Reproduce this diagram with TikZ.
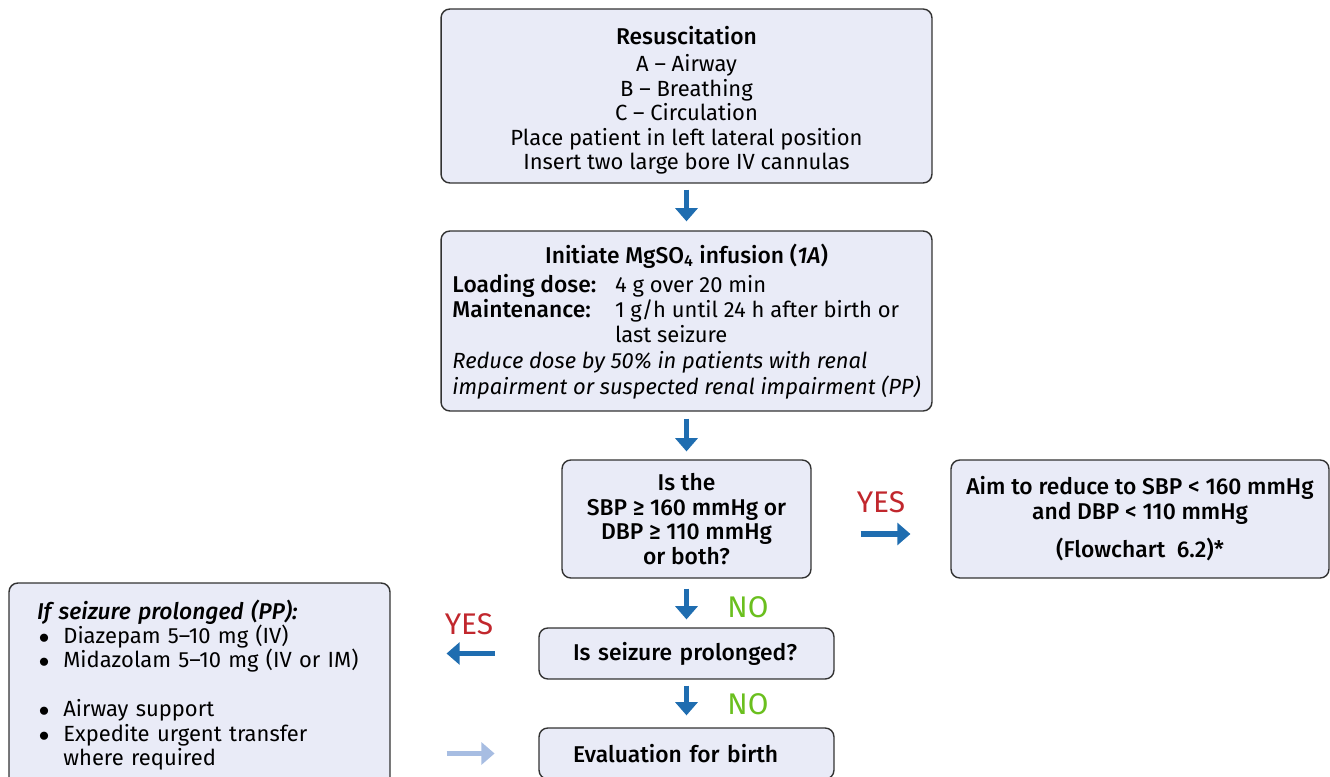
\documentclass[tikz,border=0pt]{standalone}
\usepackage{fontspec}
\setmainfont{Fira Sans}[BoldFont={FiraSans-Medium}, BoldItalicFont={FiraSans-MediumItalic}]
\usepackage{xcolor}
\definecolor{boxfill}{RGB}{233,235,247}
\definecolor{boxline}{RGB}{50,50,50}
\definecolor{flowblue}{RGB}{31,109,176}
\definecolor{flowpale}{RGB}{167,189,226}
\definecolor{yesred}{RGB}{193,39,45}
\definecolor{nogreen}{RGB}{106,191,30}
\usetikzlibrary{arrows.meta,positioning,calc}
\newcommand{\bul}{\makebox[15pt][l]{\hspace{1pt}$\bullet$}}
\newcommand{\hd}[1]{{\fontsize{13}{13.9}\selectfont\bfseries #1}}

\begin{document}
\begin{tikzpicture}[x=0.02cm, y=-0.02cm,
    flowbox/.style={draw=boxline, line width=0.8pt, fill=boxfill, rounded corners=5pt,
                    inner sep=0pt, font=\fontsize{12.5}{13.9}\selectfont},
    flowbold/.style={flowbox, font=\fontsize{13}{13.9}\selectfont\bfseries},
    flowarr/.style={-{Triangle[length=7.5pt,width=12.5pt]}, line width=3.4pt, flowblue},
    answer/.style={font=\fontsize{17}{19}\selectfont}]
  \useasboundingbox (0,0) rectangle (1330,777);
  % Resuscitation
  \node[flowbox, minimum width=9.82cm, minimum height=3.48cm, align=center] (resus) at (686.5,96)
    {\rule{0pt}{15pt}\hd{Resuscitation}\\[2pt] A – Airway\\ B – Breathing\\ C – Circulation\\
     Place patient in left lateral position\\ Insert two large bore IV cannulas};
  % Magnesium sulfate
  \node[flowbox, minimum width=9.82cm, minimum height=3.6cm] (mgso) at (686.5,321)
    {\begin{tabular}{@{}p{92.5pt}@{}l@{}}
      \multicolumn{2}{@{}c@{}}{\rule{0pt}{13pt}\hd{Initiate MgSO\textsubscript{4} infusion (\textit{1A})}}\\[2pt]
      \hd{Loading dose:} & 4 g over 20 min\\
      \hd{Maintenance:} & 1 g/h until 24 h after birth or\\
       & last seizure\\[1pt]
      \multicolumn{2}{@{}l@{}}{\textit{Reduce dose by 50\% in patients with renal}}\\
      \multicolumn{2}{@{}l@{}}{\textit{impairment or suspected renal impairment (PP)}}
    \end{tabular}};
  % Blood pressure check
  \node[flowbold, minimum width=4.98cm, minimum height=2.36cm, align=center] (sbp) at (686.5,519)
    {Is the\\ SBP ≥ 160 mmHg or\\ DBP ≥ 110 mmHg\\ or both?};
  \node[flowbold, minimum width=7.56cm, minimum height=2.36cm, align=center] (aim) at (1140,519)
    {Aim to reduce to SBP < 160 mmHg\\ and DBP < 110 mmHg\\[7pt] (Flowchart~~6.2)*};
  % Seizure
  \node[flowbold, minimum width=5.9cm, minimum height=1.02cm, text width=4.54cm, align=left] (prolong) at (686.5,653.5)
    {Is seizure prolonged?};
  \node[flowbold, minimum width=5.9cm, minimum height=1.02cm, text width=4.54cm, align=left] (eval) at (686.5,753.5)
    {Evaluation for birth};
  \node[flowbox, minimum width=7.62cm, minimum height=4.08cm, text width=6.5cm, align=left] (leftbox) at (199.5,685)
    {\hd{\textit{If seizure prolonged (PP):}}\\ \bul Diazepam 5–10 mg (IV)\\ \bul Midazolam 5–10 mg (IV or IM)\\[13.9pt]
     \bul Airway support\\ \bul Expedite urgent transfer\\ \hspace*{15pt}where required};
  % Arrows
  \draw[flowarr, shorten <=3.4pt, shorten >=5.1pt] (resus) -- (mgso);
  \draw[flowarr, shorten <=4pt, shorten >=4.5pt] (mgso) -- (sbp);
  \draw[flowarr, shorten <=5.7pt, shorten >=4.5pt] (sbp) -- (prolong);
  \draw[flowarr, shorten <=3.4pt, shorten >=6.8pt] (prolong) -- (eval);
  \draw[flowarr, shorten <=27.8pt, shorten >=22.7pt] ([yshift=-0.3cm]sbp.east) -- ([yshift=-0.3cm]aim.west);
  \draw[flowarr, shorten <=24.9pt, shorten >=31.8pt] (prolong.west) -- (leftbox.east |- prolong.west);
  \draw[flowarr, flowpale, shorten <=31.8pt, shorten >=24.9pt] (leftbox.east |- eval.west) -- (eval.west);
  % Answers
  \node[answer, text=yesred] (yesbp) at (881,502) {YES};
  \node[answer, text=yesred] (yesseiz) at (469,624) {YES};
  \node[answer, text=nogreen] (nobp) at (748,607) {NO};
  \node[answer, text=nogreen] (noseiz) at (748,704) {NO};
\end{tikzpicture}
\end{document}
